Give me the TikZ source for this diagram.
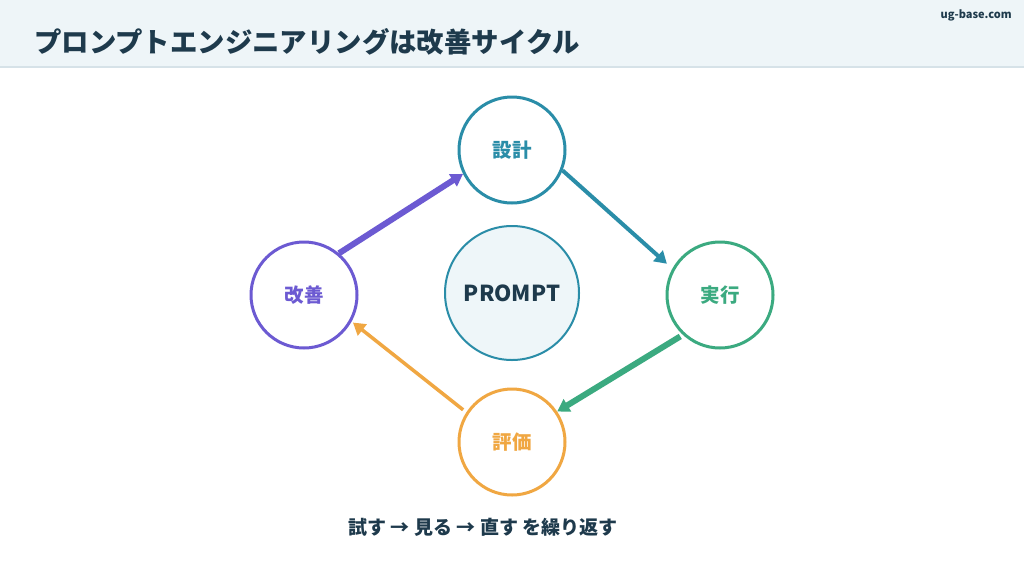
\documentclass[tikz,border=0pt]{standalone}
\usepackage{fontspec}
\setmainfont{Noto Sans CJK JP}
\usetikzlibrary{arrows.meta}
\definecolor{navy}{HTML}{1E3A4C}
\definecolor{hdr}{HTML}{EEF5F8}
\definecolor{hdrline}{HTML}{D6E2E8}
\definecolor{cteal}{HTML}{2A8DA8}
\definecolor{cgreen}{HTML}{3BAA80}
\definecolor{corange}{HTML}{F0A742}
\definecolor{cpurple}{HTML}{6C5AD2}
\definecolor{pfill}{HTML}{EEF6F9}
\tikzset{
  stage/.style={circle, draw=#1, line width=3pt, minimum size=106pt, inner sep=0pt, fill=white,
    text=#1, font=\bfseries\fontsize{19.5}{19.5}\selectfont},
  flow/.style={draw=#1, -{Triangle[length=12pt,width=14pt]}},
}
\begin{document}
\begin{tikzpicture}[x=1pt,y=-1pt]
\useasboundingbox (0,0) rectangle (1024,576);
\fill[white] (0,0) rectangle (1024,576);
\fill[hdr] (0,0) rectangle (1024,67);
\draw[hdrline, line width=1.5pt] (0,67) -- (1024,67);
\node[anchor=west, text=navy, font=\bfseries\fontsize{27.4}{27.4}\selectfont, inner sep=0pt] (title) at (34,42) {プロンプトエンジニアリングは改善サイクル};
\node[anchor=east, text=navy, font=\bfseries\fontsize{11}{11}\selectfont, inner sep=0pt] (site) at (1012,15) {ug-base.com};

\node[circle, draw=cteal, line width=2pt, fill=pfill, minimum size=134pt, inner sep=0pt,
  text=navy, font=\bfseries\fontsize{22}{22}\selectfont] (prompt) at (512,293) {PROMPT};

\node[stage=cteal] (sekkei) at (512,150) {設計};
\node[stage=cgreen] (jikko) at (720,295) {実行};
\node[stage=corange] (hyoka) at (512,442) {評価};
\node[stage=cpurple] (kaizen) at (304,295) {改善};

\draw[flow=cpurple, line width=6pt] (kaizen.50) -- (sekkei.206);
\draw[flow=cteal, line width=4pt, shorten >=6pt] (sekkei.338) -- ([shift={(-4pt,-4pt)}]jikko.145);
\draw[flow=cgreen, line width=6pt, shorten <=3pt] (jikko.227) -- (hyoka.34);
\draw[flow=corange, line width=3.5pt, shorten <=4pt] (hyoka.147) -- ([shift={(6pt,6pt)}]kaizen.322);

\node[text=navy, font=\bfseries\fontsize{19}{19}\selectfont, inner sep=0pt] (caption) at (483,527) {試す → 見る → 直す を繰り返す};
\end{tikzpicture}
\end{document}
